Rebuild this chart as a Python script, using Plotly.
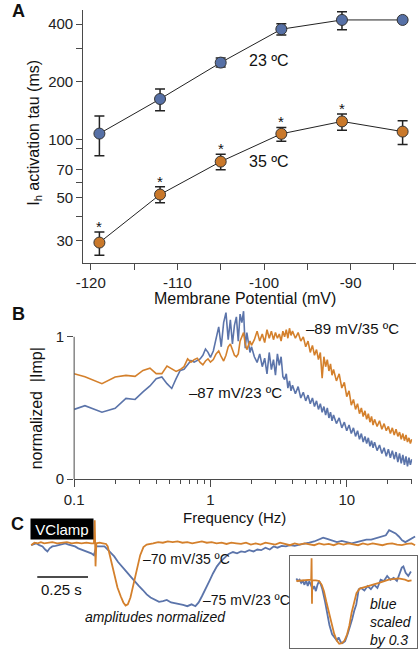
import math
import plotly.graph_objects as go

# ---------------- DATA ----------------
# Panel A: Ih activation tau vs membrane potential
A_VM = [-119, -112, -105, -98, -91, -84]
A_TAU_23 = [107.7, 163, 252, 376, 420, 420]
A_HI_23 = [132.8, 183.5, 266, 401, 464, None]
A_LO_23 = [82.7, 141.5, 239, 351, 373.5, None]
A_TAU_35 = [29.2, 51.9, 77, 107.4, 124.6, 110.3]
A_HI_35 = [33.1, 56.9, 84, 116, 136, 125.7]
A_LO_35 = [25.1, 47.1, 69.8, 98.4, 112, 94.6]
A_SIG_35 = [True, True, True, True, True, False]
A_XTICKS = [-120, -115, -110, -105, -100, -95, -90, -85]
A_XTICKTEXT = ["-120", "", "-110", "", "-100", "", "-90", ""]
A_YTICKS = [30, 40, 50, 60, 70, 90, 100, 200, 300, 400]
A_YTICKTEXT = ["30", "", "50", "", "70", "", "100", "200", "", "400"]

# Panel B: normalized impedance vs frequency
B_FREQ = [0.1, 0.12, 0.16, 0.2, 0.24, 0.28, 0.32, 0.36, 0.4, 0.44, 0.48, 0.52, 0.56, 0.6,
          0.64, 0.68, 0.72, 0.76, 0.8, 0.84, 0.88, 0.92, 0.96, 1.0,
          1.05, 1.1, 1.15, 1.2, 1.25, 1.3, 1.35, 1.4, 1.45, 1.5, 1.55, 1.6, 1.65, 1.7,
          1.75, 1.8, 1.85, 1.9, 1.95, 2.0,
          2.1, 2.2, 2.3, 2.4, 2.5, 2.6, 2.7, 2.8, 2.9, 3.0, 3.1, 3.2, 3.3, 3.4, 3.5,
          3.6, 3.7, 3.8, 3.9, 4.0,
          4.2, 4.4, 4.6, 4.8, 5.0, 5.2, 5.4, 5.6, 5.8, 6.0, 6.2, 6.4, 6.6, 6.8, 7.0,
          7.2, 7.4, 7.6, 7.8, 8.0,
          8.4, 8.8, 9.2, 9.6, 10.0, 10.4, 10.8, 11.2, 11.6, 12.0, 12.4, 12.8, 13.2,
          13.6, 14.0, 14.4, 14.8, 15.2, 15.6, 16.0,
          16.7, 17.4, 18.1, 18.8, 19.5, 20.2, 20.9, 21.6, 22.3, 23.0, 23.7, 24.4, 25.1,
          25.8, 26.5, 27.2, 27.9, 28.6, 29.3, 30.0]
B_IMP_23 = [0.49, 0.516, 0.47, 0.498, 0.567, 0.56, 0.613, 0.655, 0.706, 0.718, 0.671, 0.637,
            0.706, 0.764, 0.772, 0.80, 0.833, 0.822, 0.835, 0.845, 0.87, 0.914, 0.891, 0.855,
            0.90, 0.99, 1.07, 0.93, 1.10, 1.17, 0.98, 1.12, 0.95, 1.08, 1.14, 0.97, 1.16, 1.10,
            1.18, 0.92, 1.03, 0.96, 0.89, 0.93,
            0.86, 0.82, 0.88, 0.79, 0.85, 0.74, 0.89, 0.77, 0.84, 0.73, 0.88, 0.80, 0.86, 0.72,
            0.70, 0.74, 0.64, 0.69, 0.62, 0.66,
            0.60, 0.65, 0.57, 0.61, 0.55, 0.59, 0.53, 0.57, 0.51, 0.55, 0.49, 0.53, 0.47, 0.51,
            0.45, 0.50, 0.43, 0.47, 0.41, 0.45,
            0.39, 0.43, 0.36, 0.40, 0.34, 0.38, 0.32, 0.36, 0.30, 0.34, 0.28, 0.32, 0.26, 0.30,
            0.25, 0.29, 0.23, 0.27, 0.22, 0.26,
            0.20, 0.24, 0.18, 0.22, 0.16, 0.21, 0.15, 0.20, 0.14, 0.19, 0.12, 0.18, 0.11, 0.17,
            0.10, 0.16, 0.09, 0.15, 0.10, 0.14]
B_IMP_35 = [0.741, 0.72, 0.671, 0.718, 0.729, 0.722, 0.764, 0.78, 0.741, 0.741, 0.794, 0.775,
            0.757, 0.77, 0.79, 0.845, 0.822, 0.84, 0.85, 0.82, 0.803, 0.83, 0.845, 0.822,
            0.84, 0.88, 0.90, 0.86, 0.83, 0.87, 0.93, 0.95, 0.90, 0.87, 0.86, 0.88, 0.97, 1.00,
            1.03, 0.95, 0.91, 0.94, 0.97, 0.94,
            0.98, 1.04, 0.97, 1.02, 0.96, 1.05, 0.99, 1.04, 0.98, 1.03, 0.99, 1.02, 0.97, 1.04,
            1.00, 1.05, 0.99, 1.06, 1.01, 1.04,
            0.99, 1.03, 0.97, 1.00, 0.93, 0.97, 0.89, 0.94, 0.87, 0.91, 0.84, 0.89, 0.71, 0.86,
            0.79, 0.84, 0.76, 0.81, 0.73, 0.77,
            0.69, 0.74, 0.64, 0.68, 0.58, 0.62, 0.52, 0.56, 0.49, 0.53, 0.46, 0.50, 0.44, 0.48,
            0.42, 0.46, 0.40, 0.44, 0.38, 0.42,
            0.37, 0.41, 0.35, 0.39, 0.34, 0.37, 0.32, 0.36, 0.31, 0.35, 0.30, 0.33, 0.28, 0.32,
            0.27, 0.31, 0.26, 0.29, 0.25, 0.28]
B_XTICKS = [0.1, 1, 10]
B_XTICKTEXT = ["0.1", "1", "10"]
B_XMINOR = [0.2, 0.3, 0.4, 0.5, 0.6, 0.7, 0.8, 0.9, 2, 3, 4, 5, 6, 7, 8, 9, 20, 30]

# Panel C: voltage-clamp currents, (time ms, normalized amplitude)
C_ORANGE = [(0, -0.03), (16, 0.01), (32, 0.0), (48, 0.02), (64, 0.0), (80, 0.01), (104, 0.02),
            (128, 0.0), (152, 0.01), (176, 0.02), (200, 0.0), (224, 0.01), (248, 0.0),
            (272, 0.01), (296, 0.0), (309, 0.0), (313, 0.37), (317, -0.37), (321, 0.0),
            (337, 0.01), (353, 0.0), (369, -0.01), (377, -0.05), (393, -0.27), (409, -0.53),
            (425, -0.71), (441, -0.85), (454, -0.95), (465, -1.0), (476, -0.98), (489, -0.87),
            (505, -0.66), (521, -0.40), (537, -0.19), (553, -0.06), (569, -0.02), (601, 0.0),
            (625, 0.02), (649, 0.01), (673, 0.03), (697, 0.02), (721, 0.03), (745, 0.01),
            (769, 0.02), (793, 0.0), (817, 0.02), (841, 0.03), (865, 0.01), (889, 0.02),
            (913, 0.0), (938, 0.01), (962, -0.01), (986, 0.01), (1010, 0.0), (1034, -0.01),
            (1058, 0.01), (1082, -0.02), (1106, 0.0), (1130, -0.02), (1154, 0.01), (1178, 0.0),
            (1202, -0.02), (1226, 0.01), (1250, -0.01), (1274, -0.03), (1298, 0.0),
            (1322, -0.02), (1346, 0.0), (1370, -0.01), (1394, -0.03), (1418, 0.0),
            (1442, -0.02), (1466, -0.01), (1490, -0.03), (1514, 0.0), (1538, -0.02),
            (1562, 0.0), (1586, -0.01), (1610, -0.03), (1634, 0.0), (1658, -0.02), (1682, 0.0),
            (1706, -0.01), (1730, -0.03), (1754, -0.01), (1778, 0.0), (1802, -0.02),
            (1826, -0.03), (1850, -0.01), (1874, 0.0), (1891, -0.03)]
C_BLUE = [(0, -0.03), (24, 0.0), (40, -0.03), (56, -0.05), (69, -0.10), (80, -0.13),
          (91, -0.08), (104, -0.05), (120, -0.04), (136, -0.03), (152, -0.01), (168, 0.0),
          (184, -0.02), (200, -0.03), (216, -0.05), (232, -0.08), (248, -0.10), (264, -0.11),
          (280, -0.13), (296, -0.16), (309, -0.19), (321, -0.05), (337, -0.05), (361, -0.05),
          (377, -0.10), (393, -0.15), (409, -0.21), (428, -0.30), (449, -0.37), (468, -0.45),
          (489, -0.53), (508, -0.61), (529, -0.68), (550, -0.75), (569, -0.82), (588, -0.87),
          (609, -0.90), (630, -0.94), (649, -0.93), (668, -0.91), (689, -0.95), (710, -0.96),
          (729, -0.97), (748, -0.99), (769, -1.01), (790, -0.98), (809, -1.01), (825, -0.95),
          (841, -0.85), (857, -0.73), (877, -0.61), (896, -0.48), (915, -0.37), (934, -0.29),
          (954, -0.22), (973, -0.17), (994, -0.14), (1014, -0.16), (1034, -0.13),
          (1053, -0.14), (1074, -0.11), (1095, -0.13), (1114, -0.10), (1133, -0.11),
          (1154, -0.07), (1175, -0.10), (1194, -0.05), (1213, -0.07), (1234, -0.04),
          (1255, -0.05), (1274, -0.03), (1298, -0.04), (1322, -0.02), (1346, -0.01),
          (1370, 0.01), (1394, 0.03), (1418, 0.06), (1438, 0.09), (1458, 0.07), (1482, 0.04),
          (1506, 0.02), (1530, 0.04), (1554, 0.02), (1579, 0.0), (1603, 0.02), (1627, 0.04),
          (1651, 0.06), (1675, 0.06), (1699, 0.08), (1723, 0.11), (1747, 0.13), (1763, 0.21),
          (1779, 0.18), (1795, 0.16), (1811, 0.11), (1827, 0.05), (1843, 0.02), (1867, 0.06),
          (1891, 0.11)]
C_INSET_ORANGE = [(241, -0.01), (265, 0.0), (289, 0.01), (308, 0.01), (314, 0.01), (316, 0.35),
                  (318, -0.37), (319, 0.0), (337, 0.0), (353, -0.01), (366, -0.07),
                  (377, -0.17), (388, -0.33), (401, -0.51), (414, -0.69), (427, -0.84),
                  (440, -0.95), (452, -1.0), (465, -0.99), (478, -0.95), (491, -0.85),
                  (502, -0.71), (513, -0.51), (525, -0.33), (537, -0.20), (553, -0.13),
                  (577, -0.11), (610, -0.08), (648, -0.04), (696, 0.01), (744, 0.03),
                  (776, 0.01), (792, -0.01), (808, 0.0)]
C_INSET_BLUE = [(241, 0.03), (249, -0.01), (257, 0.01), (265, -0.04), (273, -0.01),
                (281, -0.07), (289, 0.0), (297, -0.09), (305, -0.01), (313, -0.07),
                (321, -0.14), (329, -0.09), (337, -0.17), (345, -0.07), (353, -0.01),
                (361, -0.06), (369, -0.14), (382, -0.33), (393, -0.53), (404, -0.71),
                (417, -0.85), (430, -0.91), (441, -0.95), (449, -0.90), (459, -0.97),
                (468, -0.99), (481, -0.96), (494, -0.84), (505, -0.74), (516, -0.61),
                (526, -0.48), (536, -0.38), (548, -0.14), (560, -0.12), (576, -0.16),
                (592, -0.09), (608, -0.14), (624, -0.07), (640, -0.12), (656, 0.01),
                (672, -0.01), (688, 0.07), (704, 0.01), (720, 0.04), (736, -0.01),
                (744, 0.07), (760, 0.20), (768, 0.22), (779, 0.12), (792, 0.07), (805, 0.14)]
C_SCALEBAR_MS = 250

# ---------------- STYLE ----------------
W, H = 418, 658
FONT = "Liberation Sans, Arial, Helvetica, sans-serif"
BLUE_M = "#5670a6"
ORANGE_M = "#c9782a"
BLUE_L = "#5b74aa"
ORANGE_L = "#d4802c"
AXC = "#4a4a4a"


def px(x):
    return x / W


def py(y):
    return 1 - y / H


fig = go.Figure()

# ---- Panel A ----
for tau, hi, lo, col in [(A_TAU_23, A_HI_23, A_LO_23, BLUE_M),
                         (A_TAU_35, A_HI_35, A_LO_35, ORANGE_M)]:
    up = [None if h is None else h - v for h, v in zip(hi, tau)]
    dn = [None if l is None else v - l for l, v in zip(lo, tau)]
    fig.add_trace(go.Scatter(
        x=A_VM, y=tau, mode="lines+markers",
        line=dict(color="#222", width=1),
        marker=dict(size=11, color=col, line=dict(color="#333", width=1)),
        error_y=dict(type="data", symmetric=False, array=up, arrayminus=dn,
                     color="#222", thickness=1.5, width=5),
        xaxis="x", yaxis="y", showlegend=False, hoverinfo="skip"))

# ---- Panel B ----
fig.add_trace(go.Scatter(x=B_FREQ, y=B_IMP_23, mode="lines",
                         line=dict(color=BLUE_L, width=1.6),
                         xaxis="x2", yaxis="y2", showlegend=False))
fig.add_trace(go.Scatter(x=B_FREQ, y=B_IMP_35, mode="lines",
                         line=dict(color=ORANGE_L, width=1.6),
                         xaxis="x2", yaxis="y2", showlegend=False))

# ---- Panel C ----
for data, col, ax, ay in [(C_BLUE, BLUE_L, "x3", "y3"), (C_ORANGE, ORANGE_L, "x3", "y3"),
                          (C_INSET_BLUE, BLUE_L, "x4", "y4"),
                          (C_INSET_ORANGE, ORANGE_L, "x4", "y4")]:
    fig.add_trace(go.Scatter(x=[p[0] for p in data], y=[p[1] for p in data], mode="lines",
                             line=dict(color=col, width=1.8),
                             xaxis=ax, yaxis=ay, showlegend=False))

common = dict(showgrid=False, zeroline=False, linecolor=AXC, linewidth=1,
              tickcolor=AXC, tickwidth=1, tickfont=dict(size=15, color="#222", family=FONT))

layout = dict(
    width=W, height=H, margin=dict(l=0, r=0, t=0, b=0),
    paper_bgcolor="white", plot_bgcolor="rgba(0,0,0,0)",
    font=dict(family=FONT, color="#222"),
    xaxis=dict(domain=[px(75), px(416)], range=[-120.87, -82.45], anchor="y",
               tickvals=A_XTICKS, ticktext=A_XTICKTEXT, ticks="outside", ticklen=6,
               showline=True, **common),
    yaxis=dict(domain=[py(266), py(10)], type="log", range=[1.3604, 2.6756], anchor="x",
               tickvals=A_YTICKS, ticktext=A_YTICKTEXT, ticks="outside", ticklen=6,
               showline=True, **common),
    xaxis2=dict(domain=[px(65.7), px(412)], type="log", range=[-1, 1.4798], anchor="y2",
                tickvals=B_XTICKS, ticktext=B_XTICKTEXT, ticks="outside", ticklen=7,
                minor=dict(tickvals=B_XMINOR, ticks="outside", ticklen=4, tickcolor=AXC),
                showline=True, **common),
    yaxis2=dict(domain=[py(485), py(313.6)], range=[0, 1.19], anchor="x2",
                tickvals=[0, 1], ticktext=["0", "1"], ticks="outside", ticklen=6,
                showline=False, **common),
    xaxis3=dict(domain=[0, 1], range=[-104.3, 1905.3], visible=False, anchor="y3"),
    yaxis3=dict(domain=[0, py(515)], range=[-1.714, 0.556], visible=False, anchor="x3"),
    xaxis4=dict(domain=[px(286.7), px(417)], range=[209, 835], anchor="y4",
                showline=True, mirror=True, linecolor="#666", linewidth=1,
                showticklabels=False, ticks="", showgrid=False, zeroline=False),
    yaxis4=dict(domain=[py(656), py(563.3)], range=[-1.067, 0.377], anchor="x4",
                showline=True, mirror=True, linecolor="#666", linewidth=1,
                showticklabels=False, ticks="", showgrid=False, zeroline=False),
)
fig.update_layout(**layout)

shapes = [
    # panel B y-axis line only from 0 to 1
    dict(type="line", xref="x2 domain", yref="y2", x0=0, x1=0, y0=0, y1=1,
         line=dict(color=AXC, width=1)),
    # panel C scale bar
    dict(type="line", xref="x3", yref="y3", x0=30, x1=30 + C_SCALEBAR_MS, y0=-0.54, y1=-0.54,
         line=dict(color="#111", width=1.5)),
]
fig.update_layout(shapes=shapes)

ann = []


def txt(x, y, s, size=15, **kw):
    d = dict(x=px(x), y=py(y), xref="paper", yref="paper", text=s, showarrow=False,
             font=dict(size=size, color="#111", family=FONT), xanchor="center",
             yanchor="middle")
    d.update(kw)
    ann.append(d)


# panel letters
txt(9, 11, "<b>A</b>", size=18)
txt(9, 318, "<b>B</b>", size=18)
txt(8, 530, "<b>C</b>", size=18)

# panel A texts
txt(265, 61, "23 ºC", size=16)
txt(265, 163, "35 ºC", size=16)
txt(241, 302, "Membrane Potential (mV)", size=16)
txt(25, 134, "I<sub>h</sub> activation tau (ms)", size=16, textangle=-90)

# asterisks for significance
for xv, hv, s in zip(A_VM, A_HI_35, A_SIG_35):
    if s:
        ann.append(dict(x=xv, y=math.log10(hv), xref="x", yref="y", text="*",
                        showarrow=False, font=dict(size=15, color="#111", family=FONT),
                        xanchor="center", yanchor="bottom", yshift=-5))

# panel B texts
txt(351, 333, "–89 mV/35 ºC", size=15)
txt(231, 397, "–87 mV/23 ºC", size=15)
txt(230, 524, "Frequency (Hz)", size=15)
txt(28, 413, "normalized  |Imp|", size=16, textangle=-90)

# panel C texts
ann.append(dict(x=152, y=0.238, xref="x3", yref="y3", text="VClamp", showarrow=False,
                font=dict(size=15, color="white", family=FONT), bgcolor="black",
                borderpad=2, width=58, height=16, xanchor="center", yanchor="middle"))
txt(53, 597, "0.25 s", size=15)
txt(180.5, 566, "–70 mV/35 ºC", size=14)
txt(242.5, 607, "–75 mV/23 ºC", size=14)
txt(149, 625, "<i>amplitudes normalized</i>", size=14)
txt(367, 630, "<i>blue<br>scaled<br>by 0.3</i>", size=14, xanchor="left", align="left")

fig.update_layout(annotations=ann)
fig.write_html("out.html",
               config={"displayModeBar": False, "staticPlot": True},
               post_script="document.body.style.margin='0';"
                           "document.body.style.overflow='hidden';")
